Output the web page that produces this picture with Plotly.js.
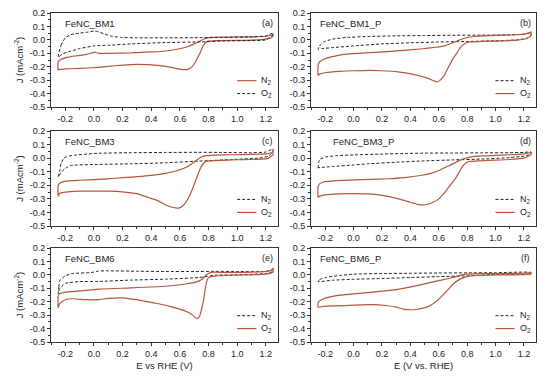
<!DOCTYPE html>
<html>
<head>
<meta charset="utf-8">
<script src="https://cdn.plot.ly/plotly-3.0.1.min.js"></script>
<style>html,body{margin:0;padding:0;background:#fff;}#chart{width:550px;height:381px;}</style>
</head>
<body>
<div id="chart"></div>
<script>
// ---------- data (E in V vs RHE, J in mA cm^-2) ----------
const panelNames = ['FeNC_BM1', 'FeNC_BM1_P', 'FeNC_BM3', 'FeNC_BM3_P', 'FeNC_BM6', 'FeNC_BM6_P'];
const panelLetters = ['(a)', '(b)', '(c)', '(d)', '(e)', '(f)'];
const xTickVals = [-0.2, 0.0, 0.2, 0.4, 0.6, 0.8, 1.0, 1.2];
const xTickText = ['-0.2', '0.0', '0.2', '0.4', '0.6', '0.8', '1.0', '1.2'];
const yTickVals = [-0.5, -0.4, -0.3, -0.2, -0.1, 0.0, 0.1, 0.2];
const yTickText = ['-0.5', '-0.4', '-0.3', '-0.2', '-0.1', '0.0', '0.1', '0.2'];
const xTitles = ['E vs RHE (V)', 'E (V vs. RHE)'];

// (a) FeNC_BM1 : solid curve labelled N2, dashed curve labelled O2 (as in the figure)
const bm1_N2_E = [-0.25,-0.23,-0.18,-0.13,-0.07,-0.02,0.0,0.03,0.1,0.26,0.4,0.5,0.58,0.64,0.7,0.74,0.78,0.82,0.9,1.0,1.1,1.2,1.24,1.25,
                  1.25,1.24,1.2,1.1,1.0,0.85,0.8,0.78,0.76,0.74,0.72,0.7,0.68,0.66,0.63,0.6,0.5,0.38,0.3,0.2,0.1,0.0,-0.1,-0.2,-0.24,-0.25,-0.25];
const bm1_N2_J = [-0.165,-0.145,-0.128,-0.12,-0.112,-0.1,-0.092,-0.1,-0.1,-0.097,-0.09,-0.083,-0.07,-0.055,-0.03,-0.008,0.01,0.018,0.02,0.022,0.022,0.027,0.035,0.045,
                  0.03,0.015,0.005,-0.002,-0.004,-0.006,-0.01,-0.02,-0.05,-0.1,-0.14,-0.18,-0.205,-0.218,-0.222,-0.218,-0.198,-0.185,-0.182,-0.188,-0.198,-0.207,-0.212,-0.216,-0.22,-0.225,-0.165];
const bm1_O2_E = [-0.25,-0.23,-0.2,-0.16,-0.1,-0.04,0.0,0.03,0.07,0.12,0.19,0.3,0.5,0.7,0.9,1.1,1.2,1.25,
                  1.25,1.2,1.1,0.9,0.75,0.5,0.26,0.1,0.0,-0.1,-0.18,-0.22,-0.25];
const bm1_O2_J = [-0.13,-0.04,0.015,0.04,0.05,0.058,0.065,0.06,0.045,0.028,0.018,0.015,0.015,0.016,0.018,0.022,0.03,0.05,
                  0.035,0.0,-0.005,-0.008,-0.015,-0.02,-0.03,-0.04,-0.045,-0.065,-0.09,-0.105,-0.13];

// (b) FeNC_BM1_P
const bm1p_N2_E = [-0.25,-0.24,-0.21,-0.15,-0.05,0.1,0.3,0.5,0.7,0.9,1.1,1.2,1.25,
                   1.25,1.22,1.15,1.0,0.8,0.6,0.4,0.2,0.0,-0.15,-0.22,-0.25];
const bm1p_N2_J = [-0.07,-0.045,-0.015,0.005,0.018,0.025,0.03,0.032,0.034,0.035,0.037,0.042,0.055,
                   0.035,0.012,0.0,-0.007,-0.012,-0.016,-0.022,-0.03,-0.045,-0.058,-0.065,-0.07];
const bm1p_O2_E = [-0.25,-0.24,-0.21,-0.15,-0.08,0.0,0.12,0.24,0.36,0.47,0.58,0.64,0.7,0.74,0.78,0.85,0.95,1.06,1.15,1.2,1.24,1.25,
                   1.25,1.22,1.15,1.06,0.9,0.82,0.78,0.75,0.73,0.7,0.68,0.655,0.635,0.61,0.59,0.565,0.52,0.42,0.31,0.2,0.12,0.0,-0.1,-0.2,-0.24,-0.25,-0.25];
const bm1p_O2_J = [-0.19,-0.165,-0.145,-0.125,-0.11,-0.102,-0.095,-0.087,-0.078,-0.068,-0.055,-0.045,-0.022,-0.004,0.012,0.025,0.031,0.035,0.038,0.043,0.052,0.06,
                   0.03,0.01,-0.002,-0.007,-0.012,-0.016,-0.03,-0.06,-0.095,-0.14,-0.18,-0.23,-0.27,-0.3,-0.313,-0.305,-0.285,-0.257,-0.238,-0.23,-0.228,-0.23,-0.235,-0.245,-0.255,-0.265,-0.19];

// (c) FeNC_BM3
const bm3_N2_E = [-0.25,-0.24,-0.23,-0.21,-0.19,-0.12,-0.05,0.03,0.26,0.5,0.73,0.9,1.1,1.2,1.25,
                  1.25,1.22,1.15,0.97,0.73,0.5,0.26,0.03,-0.16,-0.2,-0.23,-0.25];
const bm3_N2_J = [-0.14,-0.1,-0.04,0.0,0.012,0.024,0.03,0.036,0.04,0.042,0.043,0.042,0.04,0.045,0.068,
                  0.05,0.015,0.0,-0.01,-0.022,-0.034,-0.042,-0.046,-0.054,-0.075,-0.105,-0.14];
const bm3_O2_E = [-0.25,-0.24,-0.2,-0.1,0.03,0.15,0.26,0.4,0.5,0.57,0.62,0.66,0.69,0.72,0.75,0.78,0.85,0.97,1.1,1.2,1.24,1.25,
                  1.25,1.22,1.2,1.0,0.85,0.78,0.76,0.745,0.73,0.71,0.69,0.675,0.65,0.63,0.61,0.59,0.57,0.54,0.5,0.45,0.38,0.3,0.2,0.1,0.0,-0.1,-0.2,-0.24,-0.25,-0.25];
const bm3_O2_J = [-0.2,-0.185,-0.17,-0.163,-0.156,-0.148,-0.14,-0.127,-0.112,-0.095,-0.078,-0.058,-0.036,-0.012,0.008,0.018,0.022,0.025,0.028,0.032,0.04,0.05,
                  0.025,0.0,-0.005,-0.012,-0.018,-0.024,-0.045,-0.07,-0.11,-0.165,-0.22,-0.26,-0.31,-0.34,-0.36,-0.368,-0.367,-0.36,-0.345,-0.315,-0.29,-0.262,-0.248,-0.243,-0.243,-0.243,-0.25,-0.26,-0.28,-0.2];

// (d) FeNC_BM3_P
const bm3p_N2_E = [-0.25,-0.245,-0.24,-0.2,-0.12,0.0,0.2,0.35,0.5,0.7,0.9,1.1,1.2,1.25,
                   1.25,1.2,1.1,0.9,0.7,0.5,0.3,0.1,0.0,-0.15,-0.25];
const bm3p_N2_J = [-0.075,-0.03,-0.012,0.008,0.018,0.024,0.03,0.034,0.037,0.038,0.039,0.04,0.042,0.045,
                   0.03,0.015,0.004,-0.007,-0.013,-0.02,-0.03,-0.042,-0.05,-0.062,-0.07];
const bm3p_O2_E = [-0.25,-0.24,-0.21,-0.12,0.0,0.12,0.24,0.36,0.47,0.55,0.61,0.66,0.7,0.74,0.78,0.83,0.9,1.0,1.1,1.2,1.24,1.25,
                   1.25,1.2,1.1,0.94,0.82,0.79,0.765,0.74,0.71,0.68,0.655,0.635,0.6,0.56,0.52,0.49,0.45,0.4,0.31,0.2,0.1,0.0,-0.1,-0.2,-0.24,-0.25,-0.25];
const bm3p_O2_J = [-0.21,-0.19,-0.176,-0.166,-0.16,-0.157,-0.152,-0.143,-0.128,-0.11,-0.087,-0.062,-0.042,-0.02,-0.003,0.01,0.016,0.02,0.025,0.032,0.04,0.045,
                   0.025,0.0,-0.01,-0.017,-0.024,-0.035,-0.065,-0.11,-0.16,-0.2,-0.235,-0.262,-0.3,-0.325,-0.34,-0.345,-0.34,-0.325,-0.298,-0.275,-0.264,-0.262,-0.263,-0.27,-0.28,-0.29,-0.21];

// (e) FeNC_BM6
const bm6_N2_E = [-0.25,-0.245,-0.24,-0.2,-0.15,-0.02,0.03,0.1,0.3,0.5,0.7,0.85,1.0,1.2,1.25,
                  1.25,1.2,1.0,0.85,0.73,0.5,0.26,0.03,-0.1,-0.2,-0.24,-0.25];
const bm6_N2_J = [-0.14,-0.09,-0.044,-0.007,0.01,0.017,0.028,0.03,0.027,0.025,0.025,0.026,0.025,0.026,0.04,
                  0.025,0.01,0.0,-0.002,-0.02,-0.032,-0.039,-0.049,-0.05,-0.063,-0.105,-0.14];
const bm6_O2_E = [-0.25,-0.24,-0.2,-0.1,0.03,0.26,0.5,0.64,0.71,0.755,0.79,0.83,0.9,1.0,1.1,1.2,1.24,1.25,
                  1.25,1.2,1.0,0.85,0.8,0.785,0.775,0.765,0.75,0.74,0.725,0.71,0.69,0.66,0.6,0.55,0.45,0.35,0.2,0.1,0.03,-0.05,-0.15,-0.2,-0.24,-0.25,-0.25];
const bm6_O2_J = [-0.16,-0.14,-0.128,-0.12,-0.106,-0.097,-0.085,-0.068,-0.054,-0.032,0.005,0.02,0.018,0.018,0.02,0.025,0.035,0.05,
                  0.02,0.005,-0.002,-0.007,-0.02,-0.06,-0.12,-0.19,-0.26,-0.3,-0.325,-0.32,-0.3,-0.28,-0.255,-0.24,-0.215,-0.195,-0.172,-0.175,-0.185,-0.185,-0.178,-0.185,-0.215,-0.245,-0.16];

// (f) FeNC_BM6_P
const bm6p_N2_E = [-0.25,-0.24,-0.2,-0.1,0.0,0.2,0.4,0.6,0.8,1.0,1.25,
                   1.25,1.0,0.82,0.6,0.4,0.2,0.0,-0.15,-0.25];
const bm6p_N2_J = [-0.05,-0.035,-0.02,-0.005,0.005,0.01,0.012,0.014,0.015,0.016,0.018,
                   0.008,0.003,-0.007,-0.013,-0.02,-0.027,-0.033,-0.04,-0.05];
const bm6p_O2_E = [-0.25,-0.24,-0.21,-0.12,0.0,0.12,0.24,0.35,0.47,0.59,0.7,0.78,0.9,1.06,1.2,1.25,
                   1.25,1.06,0.82,0.75,0.7,0.66,0.62,0.59,0.55,0.52,0.48,0.45,0.4,0.35,0.3,0.24,0.12,0.0,-0.12,-0.2,-0.25,-0.25];
const bm6p_O2_J = [-0.205,-0.195,-0.178,-0.155,-0.142,-0.13,-0.117,-0.1,-0.074,-0.045,-0.02,0.004,0.009,0.01,0.012,0.014,
                   0.006,0.0,-0.007,-0.032,-0.07,-0.117,-0.16,-0.19,-0.222,-0.238,-0.25,-0.256,-0.26,-0.255,-0.24,-0.23,-0.222,-0.226,-0.231,-0.233,-0.24,-0.205];

// ---------- layout helpers ----------
const W = 550, H = 381;
const colX = [[51, 278], [311, 536]];
const rowY = [[13, 107], [131, 226], [248, 342]];
const RED = '#b5563f', BLK = '#222222';
const FONT = 'Liberation Sans, Arial, sans-serif';
const SOLID = {color: RED, width: 1.2};
const DASHED = {color: BLK, width: 1, dash: '3px,2px'};

// order of legend entries and styles per panel
const panels = [
  [{n:'N<sub>2</sub>', x:bm1_N2_E, y:bm1_N2_J, solid:true},  {n:'O<sub>2</sub>', x:bm1_O2_E, y:bm1_O2_J, solid:false}],
  [{n:'N<sub>2</sub>', x:bm1p_N2_E, y:bm1p_N2_J, solid:false}, {n:'O<sub>2</sub>', x:bm1p_O2_E, y:bm1p_O2_J, solid:true}],
  [{n:'N<sub>2</sub>', x:bm3_N2_E, y:bm3_N2_J, solid:false}, {n:'O<sub>2</sub>', x:bm3_O2_E, y:bm3_O2_J, solid:true}],
  [{n:'N<sub>2</sub>', x:bm3p_N2_E, y:bm3p_N2_J, solid:false}, {n:'O<sub>2</sub>', x:bm3p_O2_E, y:bm3p_O2_J, solid:true}],
  [{n:'N<sub>2</sub>', x:bm6_N2_E, y:bm6_N2_J, solid:false}, {n:'O<sub>2</sub>', x:bm6_O2_E, y:bm6_O2_J, solid:true}],
  [{n:'N<sub>2</sub>', x:bm6p_N2_E, y:bm6p_N2_J, solid:false}, {n:'O<sub>2</sub>', x:bm6p_O2_E, y:bm6p_O2_J, solid:true}]
];

const traces = [];
const layout = {
  width: W, height: H,
  margin: {l:0, r:0, t:0, b:0},
  paper_bgcolor: '#ffffff', plot_bgcolor: '#ffffff',
  font: {family: FONT, size: 9, color: '#222'},
  annotations: [], shapes: [],
  showlegend: false
};

const legendRowsY = [0.28, 0.143];

panels.forEach((pan, i) => {
  const col = i % 2, row = Math.floor(i / 2);
  const sfx = i === 0 ? '' : String(i + 1);
  const xd = 'x' + sfx + ' domain', yd = 'y' + sfx + ' domain';
  pan.forEach((c, k) => {
    const style = c.solid ? SOLID : DASHED;
    traces.push({
      type: 'scatter', mode: 'lines', x: c.x, y: c.y, name: c.n,
      xaxis: 'x' + sfx, yaxis: 'y' + sfx,
      line: Object.assign({shape: 'spline', smoothing: 0.45}, style),
      hoverinfo: 'skip'
    });
    // legend sample + label inside the panel
    layout.shapes.push({type: 'line', xref: xd, yref: yd, x0: 0.82, x1: 0.905,
      y0: legendRowsY[k], y1: legendRowsY[k], line: style});
    layout.annotations.push({text: c.n, xref: xd, yref: yd, x: 0.918, y: legendRowsY[k],
      xanchor: 'left', yanchor: 'middle', showarrow: false, font: {size: 9, color: '#222'}});
  });
  const [x0, x1] = colX[col], [y0, y1] = rowY[row];
  const common = {showline: true, mirror: true, linecolor: '#333', linewidth: 1, showgrid: false, zeroline: false,
                  ticks: 'outside', ticklen: 3, tickwidth: 1, tickcolor: '#333', tickfont: {size: 9, color: '#222'}, automargin: false, fixedrange: true};
  layout['xaxis' + sfx] = Object.assign({}, common, {
    domain: [x0 / W, x1 / W], anchor: 'y' + sfx, range: [-0.3, 1.285],
    tickmode: 'array', tickvals: xTickVals, ticktext: xTickText,
    minor: {tickmode: 'linear', tick0: 0, dtick: 0.1, ticks: 'outside', ticklen: 2, tickcolor: '#333', showgrid: false},
    title: row === 2 ? {text: xTitles[col], font: {size: 9.5, color: '#222'}, standoff: 4} : {text: ''}
  });
  layout['yaxis' + sfx] = Object.assign({}, common, {
    domain: [1 - y1 / H, 1 - y0 / H], anchor: 'x' + sfx, range: [-0.5, 0.2],
    tickmode: 'array', tickvals: yTickVals, ticktext: yTickText,
    minor: {tickmode: 'linear', tick0: 0, dtick: 0.05, ticks: 'outside', ticklen: 2, tickcolor: '#333', showgrid: false},
    title: col === 0 ? {text: 'J (mAcm<sup>-2</sup>)', font: {size: 9.5, color: '#222'}, standoff: 4} : {text: ''}
  });
  layout.annotations.push({
    text: panelNames[i], xref: xd, yref: yd,
    x: col === 0 ? 0.055 : (i === 3 ? 0.09 : 0.03), y: 0.89, xanchor: 'left', yanchor: 'middle', showarrow: false,
    font: {size: 9.5, color: '#222'}
  });
  layout.annotations.push({
    text: panelLetters[i], xref: xd, yref: yd,
    x: 0.955, y: 0.89, xanchor: 'center', yanchor: 'middle', showarrow: false,
    font: {size: 9, color: '#222'}
  });
});

Plotly.newPlot('chart', traces, layout, {staticPlot: true, displayModeBar: false});
</script>
</body>
</html>
